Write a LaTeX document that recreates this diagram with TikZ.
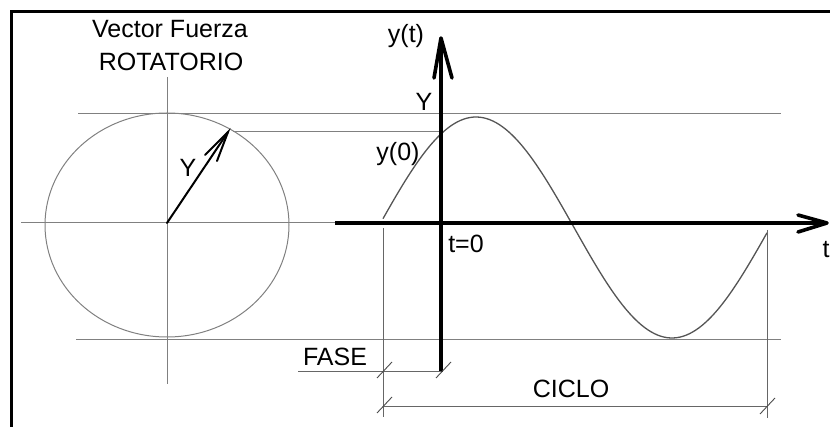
\documentclass[tikz,border=0pt]{standalone}
\usepackage{fontspec}
\setmainfont{Liberation Sans}
\definecolor{thingray}{HTML}{808080}
\definecolor{curvegray}{HTML}{555555}
\begin{document}
\begin{tikzpicture}[x=1pt,y=-1pt,
  thinline/.style={draw=thingray,line width=1pt},
  dimline/.style={draw=black!60,line width=0.9pt},
  axisline/.style={draw=black,line width=3.6pt},
  headline/.style={draw=black,line width=3.6pt,line cap=round,line join=round},
  vecline/.style={draw=black,line width=2pt,line cap=round},
  lbl/.style={inner sep=0pt,font=\fontsize{25}{28}\selectfont},
  tick/.style={draw=black!70,line width=0.9pt}]
\useasboundingbox (0,0) rectangle (830,427);
% frame
\draw[line width=3pt] (11,427) -- (11,12) -- (830,12);
% circle and its axes
\draw[thingray,line width=1pt] (167,225) ellipse [x radius=122pt, y radius=112pt];
\coordinate (cvtop) at (167,77);
\coordinate (cvbot) at (167,384);
\draw[thinline] (cvtop) -- (cvbot);
\coordinate (chl) at (21,223);
\coordinate (ax0) at (335,223);
\draw[thinline] (chl) -- (ax0);
% amplitude lines
\coordinate (topl) at (78,114); \coordinate (topr) at (781,114);
\coordinate (botl) at (76,340); \coordinate (botr) at (781,340);
\draw[thinline] (topl) -- (topr);
\draw[thinline] (botl) -- (botr);
% rotating vector
\coordinate (O) at (167,223);
\coordinate (P) at (228,132);
\draw[vecline] (O) -- (P);
\draw[vecline] (205,155) -- (P) -- (217,161);
\coordinate (y0r) at (440,132);
\coordinate (y0l) at (233,132);
\draw[thinline] (y0l) -- (y0r);
% sine curve
\draw[curvegray,line width=1.3pt,domain=383:767,samples=120,smooth]
  plot (\x,{227.5-110.5*sin(0.918367*(\x-378))});
% axes
\coordinate (yb) at (441,372);
\coordinate (yt) at (441,38);
\draw[axisline] (yb) -- (yt);
\draw[headline] (434,78) -- (441,38) -- (452,78);
\coordinate (tend) at (827,223);
\draw[axisline] (ax0) -- (tend);
\draw[headline] (798,215) -- (827,223) -- (798,232);
% dimension lines
\coordinate (d1t) at (383,228); \coordinate (d1b) at (383,417);
\coordinate (d2t) at (767,230); \coordinate (d2b) at (767,418);
\draw[dimline] (d1t) -- (d1b);
\draw[dimline] (d2t) -- (d2b);
\coordinate (fl) at (298,371); \coordinate (fr) at (441,371);
\draw[dimline] (fl) -- (fr);
\coordinate (cl) at (383,406); \coordinate (cr) at (767,406);
\draw[dimline] (cl) -- (cr);
\draw[tick] (377,378) -- (392,362);
\draw[tick] (436,378) -- (451,362);
\draw[tick] (377,413) -- (392,397);
\draw[tick] (760,414) -- (775,398);
% labels
\node[lbl] (t1) at (170,29) {Vector Fuerza};
\node[lbl] (t2) at (171,62) {ROTATORIO};
\node[lbl] (yt1) at (406,36) {y(t)};
\node[lbl] (Yamp) at (424,102) {Y};
\node[lbl] (y0) at (398,154) {y(0)};
\node[lbl] (Yvec) at (188,168) {Y};
\node[lbl] (t0) at (466,244) {t=0};
\node[lbl] (tl) at (826,250) {t};
\node[lbl] (fase) at (335,357) {FASE};
\node[lbl] (ciclo) at (571,389) {CICLO};
\end{tikzpicture}
\end{document}
